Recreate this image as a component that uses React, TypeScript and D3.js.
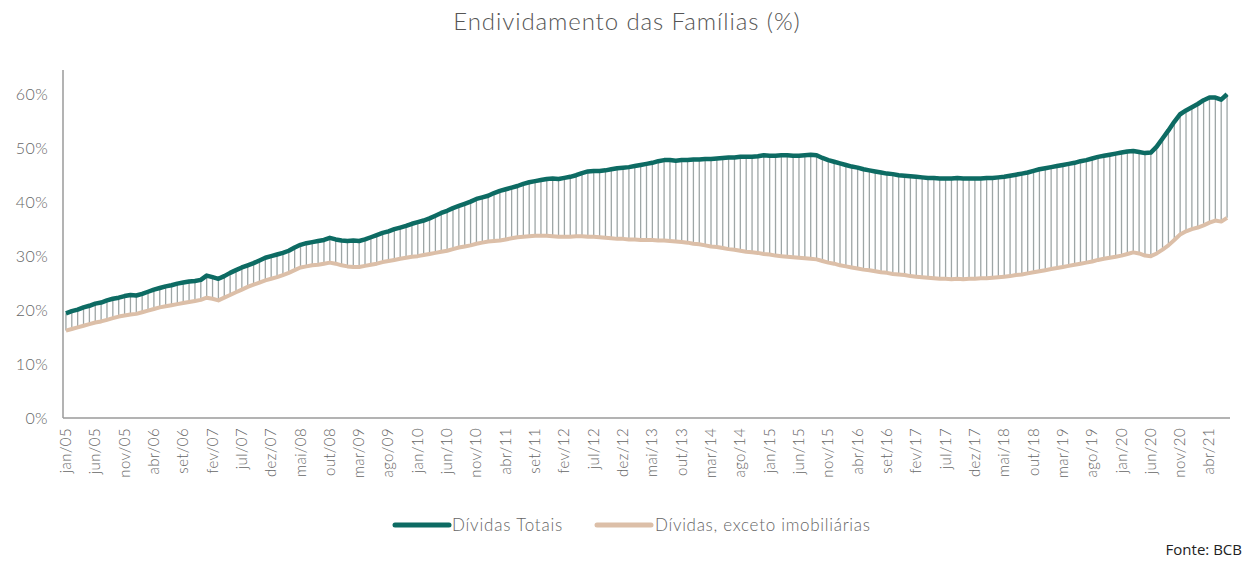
import React from 'react';
import * as d3 from 'd3';

const monthNames = ['jan', 'fev', 'mar', 'abr', 'mai', 'jun', 'jul', 'ago', 'set', 'out', 'nov', 'dez'];
const years = ['05', '06', '07', '08', '09', '10', '11', '12', '13', '14', '15', '16', '17', '18', '19', '20', '21'];

// jan/05 .. jul/21
const months: string[] = [];
years.forEach(y => monthNames.forEach(m => months.push(`${m}/${y}`)));
months.splice(199);

// Dívidas Totais (% da renda)
const totais = [
  19.4, 19.8, 20.1, 20.5, 20.8, 21.2, 21.4, 21.8, 22.1, 22.3, 22.6, 22.8,
  22.7, 23.0, 23.4, 23.8, 24.1, 24.4, 24.6, 24.9, 25.1, 25.3, 25.4, 25.6,
  26.4, 26.1, 25.8, 26.3, 26.9, 27.4, 27.9, 28.3, 28.7, 29.2, 29.7, 30.0,
  30.3, 30.6, 31.0, 31.6, 32.1, 32.4, 32.6, 32.8, 33.0, 33.4, 33.1, 32.9,
  32.8, 32.9, 32.8, 33.1, 33.5, 33.9, 34.3, 34.6, 35.0, 35.3, 35.6, 36.0,
  36.3, 36.6, 37.0, 37.5, 38.0, 38.4, 38.9, 39.3, 39.7, 40.1, 40.6, 40.9,
  41.2, 41.7, 42.1, 42.4, 42.7, 43.0, 43.4, 43.7, 43.9, 44.1, 44.3, 44.4,
  44.3, 44.5, 44.7, 45.0, 45.4, 45.7, 45.8, 45.8, 45.9, 46.1, 46.3, 46.4,
  46.5, 46.7, 46.9, 47.1, 47.3, 47.6, 47.8, 47.8, 47.7, 47.8, 47.8, 47.9,
  47.9, 48.0, 48.0, 48.1, 48.2, 48.3, 48.3, 48.4, 48.4, 48.4, 48.5, 48.7,
  48.6, 48.6, 48.7, 48.7, 48.6, 48.6, 48.7, 48.8, 48.7, 48.2, 47.8, 47.5,
  47.2, 46.9, 46.6, 46.4, 46.1, 45.9, 45.7, 45.5, 45.3, 45.2, 45.0, 44.9,
  44.8, 44.7, 44.6, 44.5, 44.5, 44.4, 44.4, 44.4, 44.5, 44.4, 44.4, 44.4,
  44.4, 44.5, 44.5, 44.6, 44.7, 44.9, 45.1, 45.3, 45.5, 45.8, 46.1, 46.3,
  46.5, 46.7, 46.9, 47.1, 47.3, 47.6, 47.8, 48.1, 48.4, 48.6, 48.8, 49.0,
  49.2, 49.4, 49.5, 49.3, 49.1, 49.2, 50.3, 51.8, 53.3, 54.9, 56.3, 57.0,
  57.6, 58.2, 58.9, 59.4, 59.4, 59.0, 60.0,
];

// Dívidas, exceto imobiliárias
const exceto = [
  16.2, 16.5, 16.8, 17.1, 17.4, 17.7, 17.9, 18.2, 18.5, 18.8, 19.0, 19.2,
  19.3, 19.6, 19.9, 20.2, 20.5, 20.7, 20.9, 21.1, 21.3, 21.5, 21.7, 21.9,
  22.3, 22.1, 21.8, 22.3, 22.8, 23.3, 23.8, 24.3, 24.7, 25.1, 25.5, 25.8,
  26.1, 26.5, 26.9, 27.4, 27.9, 28.1, 28.3, 28.4, 28.6, 28.8, 28.6, 28.3,
  28.1, 28.0, 28.0, 28.2, 28.4, 28.6, 28.9, 29.1, 29.3, 29.5, 29.7, 29.9,
  30.0, 30.2, 30.4, 30.6, 30.8, 31.0, 31.3, 31.6, 31.8, 32.0, 32.3, 32.5,
  32.7, 32.8, 32.9, 33.1, 33.3, 33.5, 33.6, 33.7, 33.8, 33.8, 33.8, 33.7,
  33.6, 33.6, 33.6, 33.7, 33.7, 33.6, 33.6, 33.5, 33.4, 33.3, 33.2, 33.2,
  33.1, 33.1, 33.0, 33.0, 33.0, 32.9, 32.9, 32.8, 32.7, 32.6, 32.5, 32.3,
  32.2, 32.0, 31.8, 31.7, 31.5, 31.3, 31.2, 31.0, 30.8, 30.7, 30.6, 30.4,
  30.3, 30.1, 30.0, 29.9, 29.8, 29.7, 29.6, 29.5, 29.4, 29.1, 28.8, 28.6,
  28.3, 28.1, 27.9, 27.7, 27.5, 27.4, 27.2, 27.0, 26.9, 26.7, 26.6, 26.5,
  26.3, 26.2, 26.1, 26.0, 25.9, 25.8, 25.8, 25.7, 25.8, 25.7, 25.8, 25.8,
  25.9, 25.9, 26.0, 26.1, 26.2, 26.3, 26.5, 26.6, 26.8, 27.0, 27.2, 27.4,
  27.6, 27.8, 28.0, 28.2, 28.4, 28.6, 28.8, 29.0, 29.3, 29.5, 29.7, 29.9,
  30.1, 30.4, 30.7, 30.5, 30.1, 30.0, 30.5, 31.2, 32.0, 33.0, 34.0, 34.6,
  35.0, 35.3, 35.7, 36.2, 36.6, 36.4, 37.1,
];

const yTicks = [0, 10, 20, 30, 40, 50, 60];

const width = 1254;
const height = 563;
const margin = { top: 70, right: 24, bottom: 145, left: 63 };

const TEAL = '#0d6b63';
const BEIGE = '#dcbfa8';
const FONT = 'Lato, "Open Sans", sans-serif';

export default function App() {
  const x = d3.scalePoint<string>()
    .domain(months)
    .range([margin.left, width - margin.right])
    .padding(0.5);

  const y = d3.scaleLinear()
    .domain([0, 64.5])
    .range([height - margin.bottom, margin.top]);

  const seriesLine = d3.line<number>()
    .x((_, i) => x(months[i])!)
    .y(d => y(d));

  const xTickLabels = months.filter((_, i) => i % 5 === 0);
  const axisY = y(0);

  return (
    <svg width={width} height={height} style={{ position: 'absolute', left: 0, top: 0, background: '#fff' }}>
      <text x={627} y={30} textAnchor="middle" fontFamily={FONT} fontWeight={300} fontSize={24}
        letterSpacing={0.9} fill="#555">
        Endividamento das Famílias (%)
      </text>

      {/* drop lines between the two series */}
      <g stroke="#9ea6a6" strokeWidth={1.3}>
        {months.map((m, i) => (
          <line key={m} x1={x(m)} x2={x(m)} y1={y(totais[i])} y2={y(exceto[i])} />
        ))}
      </g>

      <path d={seriesLine(exceto) ?? ''} fill="none" stroke={BEIGE} strokeWidth={4} strokeLinejoin="round" />
      <path d={seriesLine(totais) ?? ''} fill="none" stroke={TEAL} strokeWidth={4.5} strokeLinejoin="round" />

      {/* axes */}
      <line x1={margin.left} x2={margin.left} y1={margin.top} y2={axisY} stroke="#9a9a9a" strokeWidth={1.5} />
      <line x1={margin.left} x2={width - margin.right} y1={axisY} y2={axisY} stroke="#9a9a9a" strokeWidth={1.5} />

      {yTicks.map(t => (
        <text key={t} x={48} y={y(t) + 6} textAnchor="end" fontFamily={FONT} fontWeight={300} fontSize={16}
          letterSpacing={0.4} fill="#666">
          {`${t}%`}
        </text>
      ))}

      {xTickLabels.map(m => (
        <text key={m} transform={`translate(${x(m)! + 5},${axisY + 10}) rotate(-90)`} textAnchor="end"
          fontFamily={FONT} fontWeight={300} fontSize={15} letterSpacing={0.4} fill="#666">
          {m}
        </text>
      ))}

      {/* legend */}
      <line x1={395} x2={449} y1={525} y2={525} stroke={TEAL} strokeWidth={5} strokeLinecap="round" />
      <text x={452} y={531} fontFamily={FONT} fontWeight={300} fontSize={17} letterSpacing={0.8} fill="#666">Dívidas Totais</text>
      <line x1={597} x2={651} y1={525} y2={525} stroke={BEIGE} strokeWidth={5} strokeLinecap="round" />
      <text x={655} y={531} fontFamily={FONT} fontWeight={300} fontSize={17} letterSpacing={0.7} fill="#666">Dívidas, exceto imobiliárias</text>

      <text x={1242} y={555} textAnchor="end" fontFamily='"Open Sans", "Noto Sans", sans-serif' fontSize={15} fill="#222">
        Fonte: BCB
      </text>
    </svg>
  );
}
